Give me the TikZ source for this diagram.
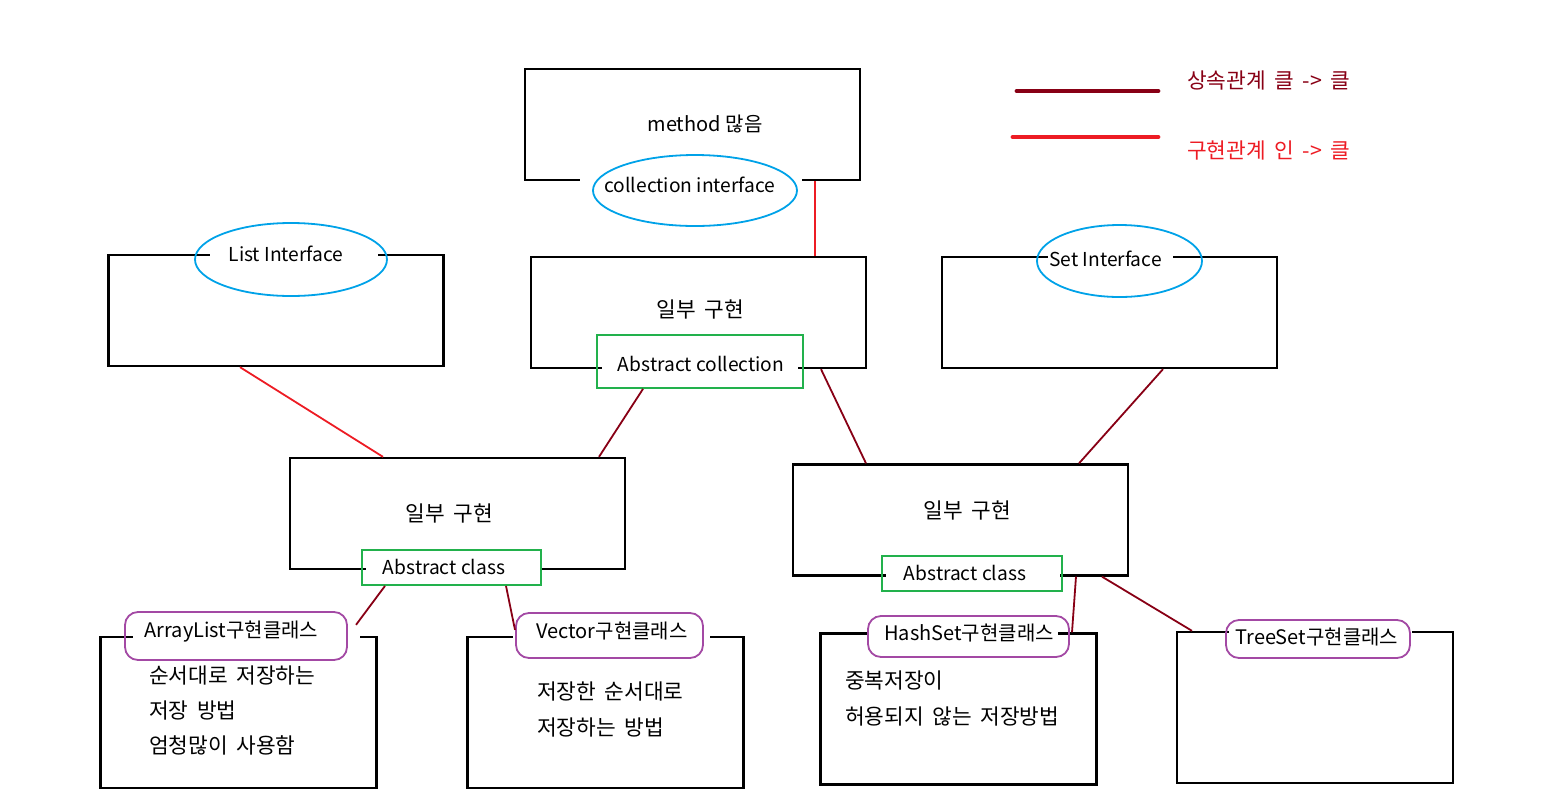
\documentclass[tikz,border=0pt]{standalone}
\usepackage{fontspec}
\setmainfont{Noto Sans CJK KR}
\newfontfamily\korfont[Scale=1.07,WordSpace=1.8]{Noto Sans CJK KR}
\usetikzlibrary{shapes.geometric,calc}

\definecolor{inhred}{RGB}{136,0,21}
\definecolor{implred}{RGB}{237,28,36}
\definecolor{ifcblue}{RGB}{0,162,232}
\definecolor{absgreen}{RGB}{34,177,76}
\definecolor{clspurple}{RGB}{163,73,164}

\begin{document}
\begin{tikzpicture}[x=1pt,y=1pt,yscale=-1,
  font=\fontsize{20}{35}\selectfont,
  box/.style={draw,line width=2.3pt,minimum width=335pt,minimum height=111pt,inner sep=0pt},
  lowbox/.style={draw,line width=2.3pt,minimum width=276pt,minimum height=151pt,inner sep=0pt},
  gap/.style={fill=white,inner sep=0pt,minimum height=10pt},
  ifcell/.style={ellipse,draw=ifcblue,line width=1.8pt,inner sep=0pt},
  absrect/.style={draw=absgreen,line width=1.8pt,inner sep=0pt},
  clsrect/.style={draw=clspurple,line width=1.8pt,rounded corners=13pt,inner sep=0pt},
  txt/.style={inner sep=0pt},
  lat/.style={inner sep=0pt,font=\fontsize{19.2}{35}\selectfont},
  kor/.style={inner sep=0pt,font=\fontsize{20}{35}\selectfont\korfont},
  inhline/.style={draw=inhred,line width=1.8pt},
  implline/.style={draw=implred,line width=1.8pt}]
\useasboundingbox (0,0) rectangle (1567,804);

%Boxes
\node[box] (coll) at (692.5,124.5) {};
\node[box] (lst) at (276,310.5) {};
\node[box] (mid) at (698.5,312.5) {};
\node[box] (set) at (1109.5,312.5) {};
\node[box] (absl) at (457.5,513.5) {};
\node[box] (absr) at (960.5,520) {};
\node[lowbox] (arr) at (238.5,712.5) {};
\node[lowbox] (vec) at (605.5,712.5) {};
\node[lowbox] (hash) at (958.5,709) {};
\node[lowbox] (tree) at (1315,707.5) {};

%Gaps in the box lines
\node[gap,minimum width=222pt] (collg) at (coll.south -| 691,0) {};
\node[gap,minimum width=168pt] (lstg) at (lst.north -| 294,0) {};
\node[gap,minimum width=125pt] (setg) at (set.north -| 1110.5,0) {};
\node[gap,minimum width=196pt] (midg) at (mid.south -| 700,0) {};
\node[gap,minimum width=174pt] (abslg) at (absl.south -| 453,0) {};
\node[gap,minimum width=174pt] (absrg) at (absr.south -| 973,0) {};
\node[gap,minimum width=227pt] (arrg) at (arr.north -| 246.5,0) {};
\node[gap,minimum width=197pt] (vecg) at (vec.north -| 611.5,0) {};
\node[gap,minimum width=189pt] (hashg) at (hash.north -| 963.5,0) {};
\node[gap,minimum width=183pt] (treeg) at (tree.north -| 1320.5,0) {};

%Interface ellipses
\node[ifcell,minimum width=204pt,minimum height=71pt] (colle) at (695,190.5) {};
\node[ifcell,minimum width=192pt,minimum height=73pt] (lste) at (291,259.5) {};
\node[ifcell,minimum width=165pt,minimum height=72pt] (sete) at (1119.5,261) {};

%Abstract class frames
\node[absrect,minimum width=206pt,minimum height=53pt] (mida) at (700,361.5) {};
\node[absrect,minimum width=179pt,minimum height=35pt] (absla) at (451.5,567.5) {};
\node[absrect,minimum width=180pt,minimum height=35pt] (absra) at (972,573.5) {};

%Class frames
\node[clsrect,minimum width=222pt,minimum height=48pt] (arrc) at (236,636) {};
\node[clsrect,minimum width=187pt,minimum height=45pt] (vecc) at (609.5,635.5) {};
\node[clsrect,minimum width=201pt,minimum height=41pt] (hashc) at (968.5,636.5) {};
\node[clsrect,minimum width=184pt,minimum height=38pt] (treec) at (1318,639) {};

% Text Node
\node[txt] (collt) at (705,124) {method 많음};
\node[lat] (collname) at (690,185) {collection interface};
\node[lat] (lstname) at (286,254) {List Interface};
\node[lat] (setname) at (1105.5,259) {Set Interface};
\node[kor] (midt) at (700,309) {일부 구현};
\node[lat] (midname) at (701,364) {Abstract collection};
\node[kor] (abslt) at (449,513) {일부 구현};
\node[lat] (abslname) at (444,567) {Abstract class};
\node[kor] (absrt) at (967,510) {일부 구현};
\node[lat] (absrname) at (965,573) {Abstract class};
\node[txt] (arrname) at (231.5,632) {ArrayList구현클래스};
\node[txt] (vecname) at (612,631) {Vector구현클래스};
\node[txt] (hashname) at (969,633) {HashSet구현클래스};
\node[txt] (treename) at (1317,637) {TreeSet구현클래스};
\node[kor,anchor=north west,align=left] (arrt) at (149,666) {순서대로 저장하는\\저장 방법\\엄청많이 사용함};
\node[kor,anchor=north west,align=left] (vect) at (537,682) {저장한 순서대로\\[1pt]저장하는 방법};
\node[kor,anchor=north west,align=left] (hasht) at (845,671) {중복저장이\\[1pt]허용되지 않는 저장방법};

%Connectors
\draw[implline] (coll.south -| 815,0) -- (mid.north -| 815,0);
\draw[implline] (lst.south -| 240,0) -- (absl.north -| 383,0);
\draw[inhline] (mida.south -| 643,0) -- (absl.north -| 599,0);
\draw[inhline] (mid.south -| 821,0) -- (absr.north -| 866,0);
\draw[inhline] (set.south -| 1163,0) -- (absr.north -| 1079,0);
\draw[inhline] (absla.south -| 385,0) -- ($(arr.north -| 356,0)+(0,-11)$);
\draw[inhline] (absla.south -| 506,0) -- ($(vec.north -| 515,0)+(0,-6)$);
\draw[inhline] (absr.south -| 1076,0) -- (hash.north -| 1072,0);
\draw[inhline] (absr.south -| 1102,0) -- (tree.north -| 1192,0);

%Legend
\draw[inhred,line width=4.8pt,line cap=round] (1017,91) -- (1158,91);
\draw[implred,line width=4.8pt,line cap=round] (1013,137) -- (1158,137);
\node[kor,anchor=west,text=inhred] (inhkey) at (1187,80) {상속관계 클 -> 클};
\node[kor,anchor=west,text=implred] (implkey) at (1187,150) {구현관계 인 -> 클};

\end{tikzpicture}
\end{document}
